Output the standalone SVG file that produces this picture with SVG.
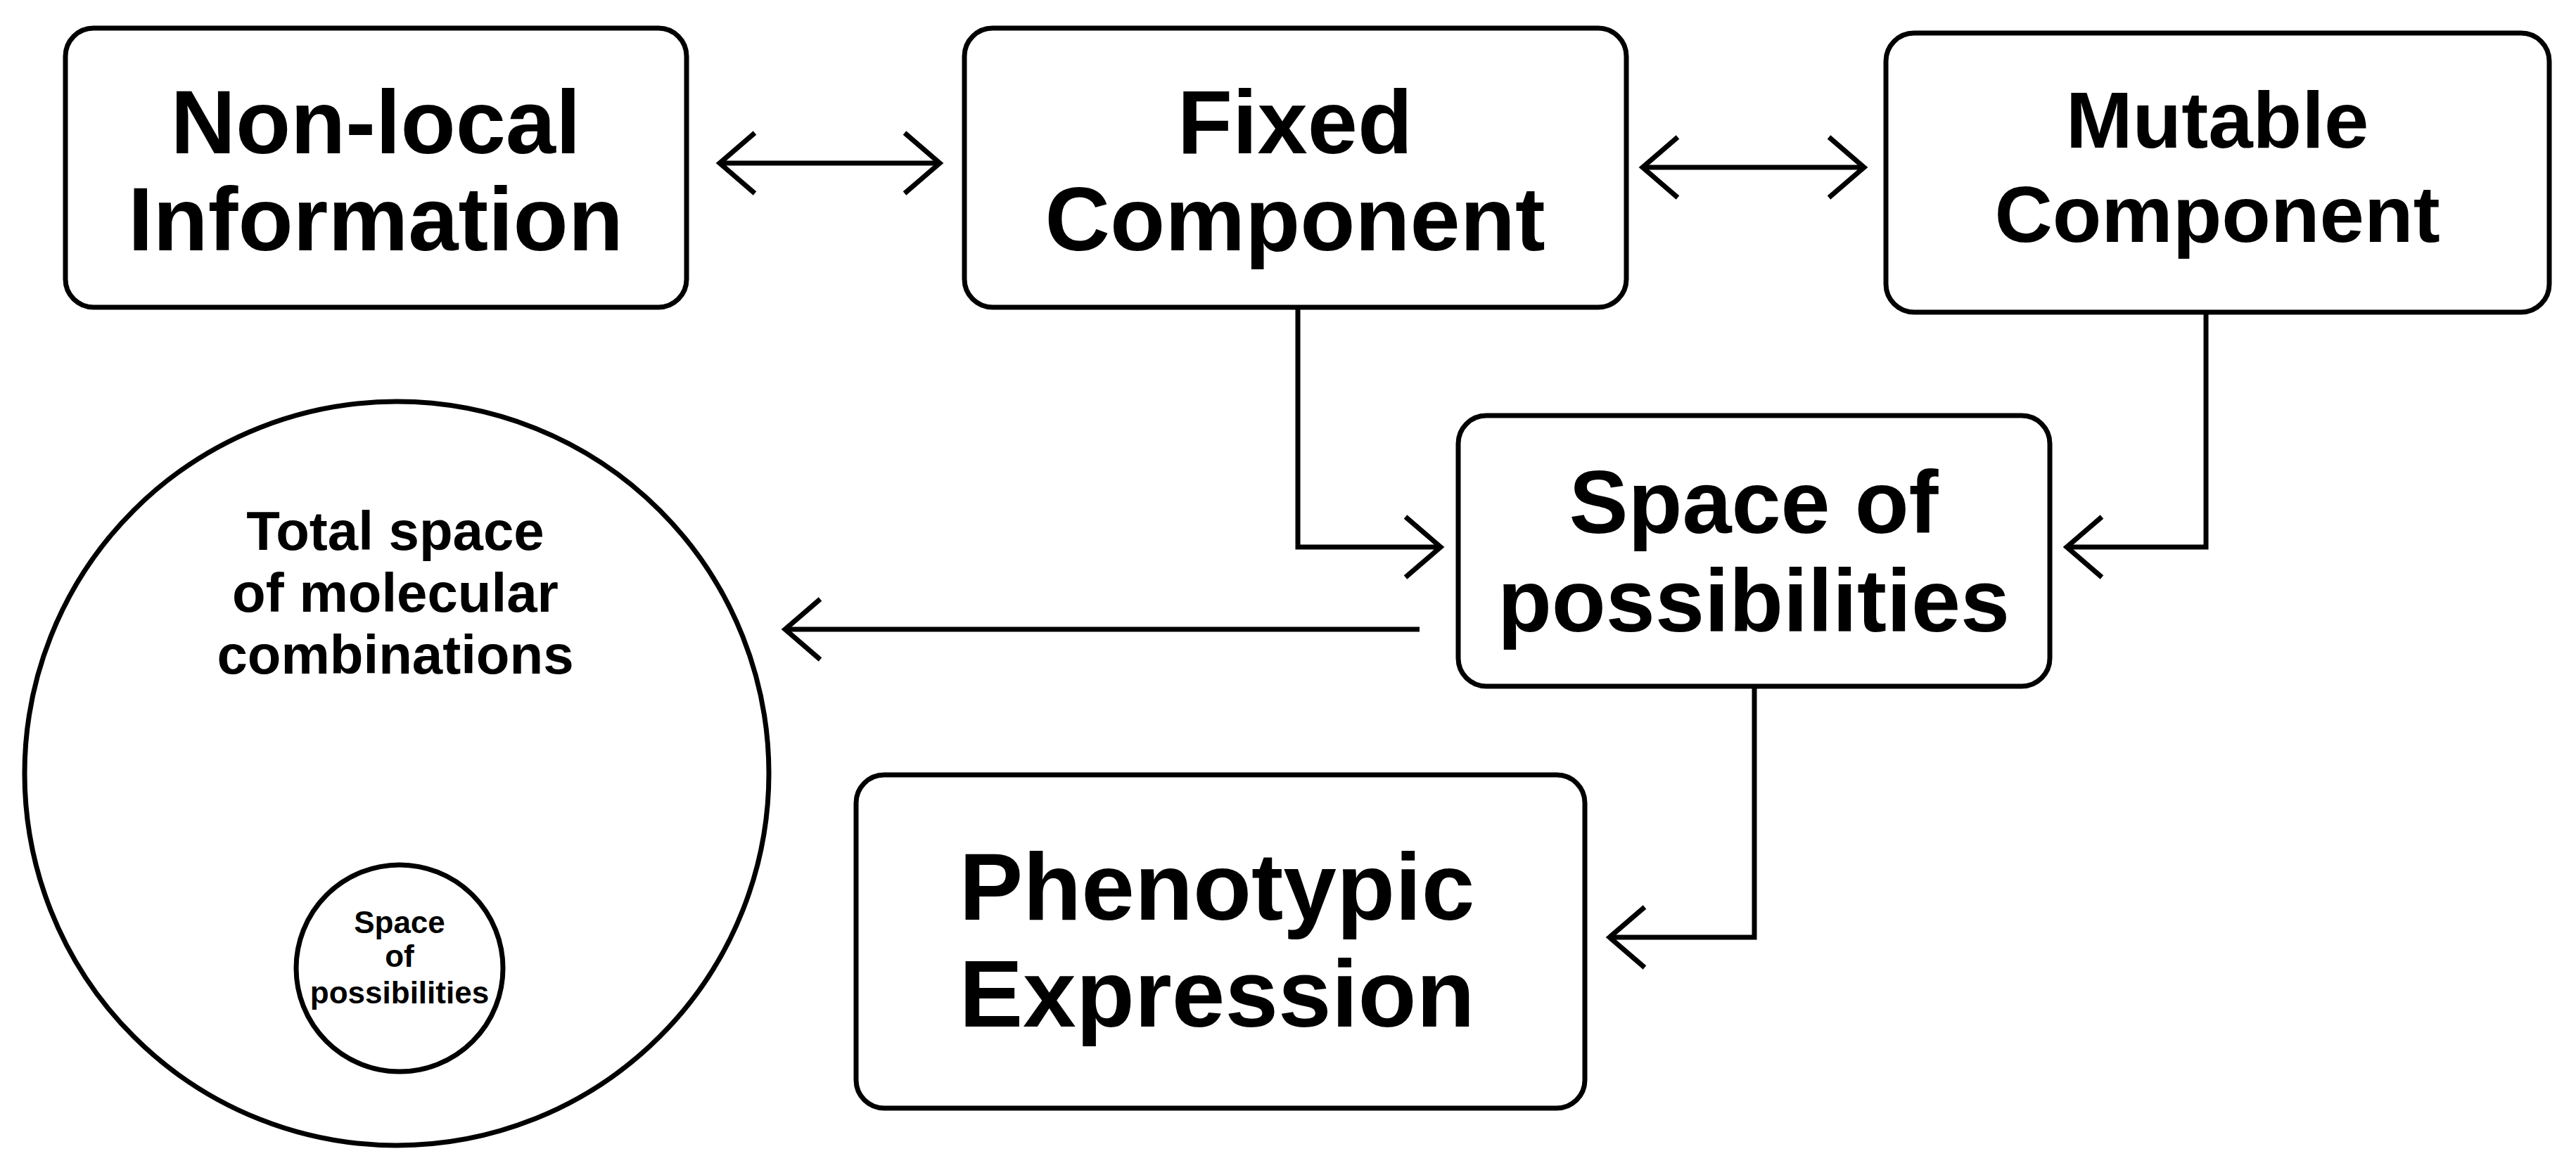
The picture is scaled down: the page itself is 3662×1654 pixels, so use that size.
<svg xmlns="http://www.w3.org/2000/svg" width="3662" height="1654" viewBox="0 0 3662 1654">
<style>
.box{fill:#fff;stroke:#000;stroke-width:7}
.t{font-family:"Liberation Sans",Arial,sans-serif;font-weight:bold;text-anchor:middle;fill:#000}
.c{fill:none;stroke:#000;stroke-width:7}
</style>
<defs>
<marker id="ah" markerUnits="userSpaceOnUse" markerWidth="80" markerHeight="110" viewBox="-70 -55 80 110" refX="0" refY="0" orient="auto-start-reverse">
<path d="M-50,-43 L0,0 L-50,43" fill="none" stroke="#000" stroke-width="7"/>
</marker>
</defs>
<rect width="3662" height="1654" fill="#fff"/>
<g id="connectors">
<path class="c" d="M1023,232 H1336" marker-start="url(#ah)" marker-end="url(#ah)"/>
<path class="c" d="M2335,238 H2650" marker-start="url(#ah)" marker-end="url(#ah)"/>
<path class="c" d="M1845,437 V778 H2048" marker-end="url(#ah)"/>
<path class="c" d="M3136,444 V778 H2938" marker-end="url(#ah)"/>
<path class="c" d="M2018,895 H1116" marker-end="url(#ah)"/>
<path class="c" d="M2494,976 V1333 H2288" marker-end="url(#ah)"/>
</g>
<g id="nonlocal">
<rect class="box" x="93" y="40" width="883" height="397" rx="40"/>
<text class="t" font-size="128" x="534" y="218">Non-local</text>
<text class="t" font-size="128" x="534" y="356">Information</text>
</g>
<g id="fixed">
<rect class="box" x="1371" y="40" width="941" height="397" rx="40"/>
<text class="t" font-size="128" x="1841" y="218">Fixed</text>
<text class="t" font-size="128" x="1841" y="356">Component</text>
</g>
<g id="mutable">
<rect class="box" x="2681" y="47" width="943" height="397" rx="40"/>
<text class="t" font-size="114" x="3152" y="210">Mutable</text>
<text class="t" font-size="114" x="3152" y="344">Component</text>
</g>
<g id="space">
<rect class="box" x="2073" y="591" width="841" height="385" rx="40"/>
<text class="t" font-size="126" x="2493" y="758">Space of</text>
<text class="t" font-size="126" x="2493" y="898">possibilities</text>
</g>
<g id="phenotypic">
<rect class="box" x="1217" y="1102" width="1036" height="474" rx="40"/>
<text class="t" font-size="136" x="1730" y="1308">Phenotypic</text>
<text class="t" font-size="136" x="1730" y="1460">Expression</text>
</g>
<g id="total">
<circle class="box" cx="564" cy="1100" r="529"/>
<text class="t" font-size="78" x="562" y="782">Total space</text>
<text class="t" font-size="78" x="562" y="870">of molecular</text>
<text class="t" font-size="78" x="562" y="958">combinations</text>
</g>
<g id="inner">
<circle class="box" cx="568" cy="1377" r="147" stroke-width="5"/>
<text class="t" font-size="44" x="568" y="1327">Space</text>
<text class="t" font-size="44" x="568" y="1375">of</text>
<text class="t" font-size="44" x="568" y="1427">possibilities</text>
</g>
</svg>
